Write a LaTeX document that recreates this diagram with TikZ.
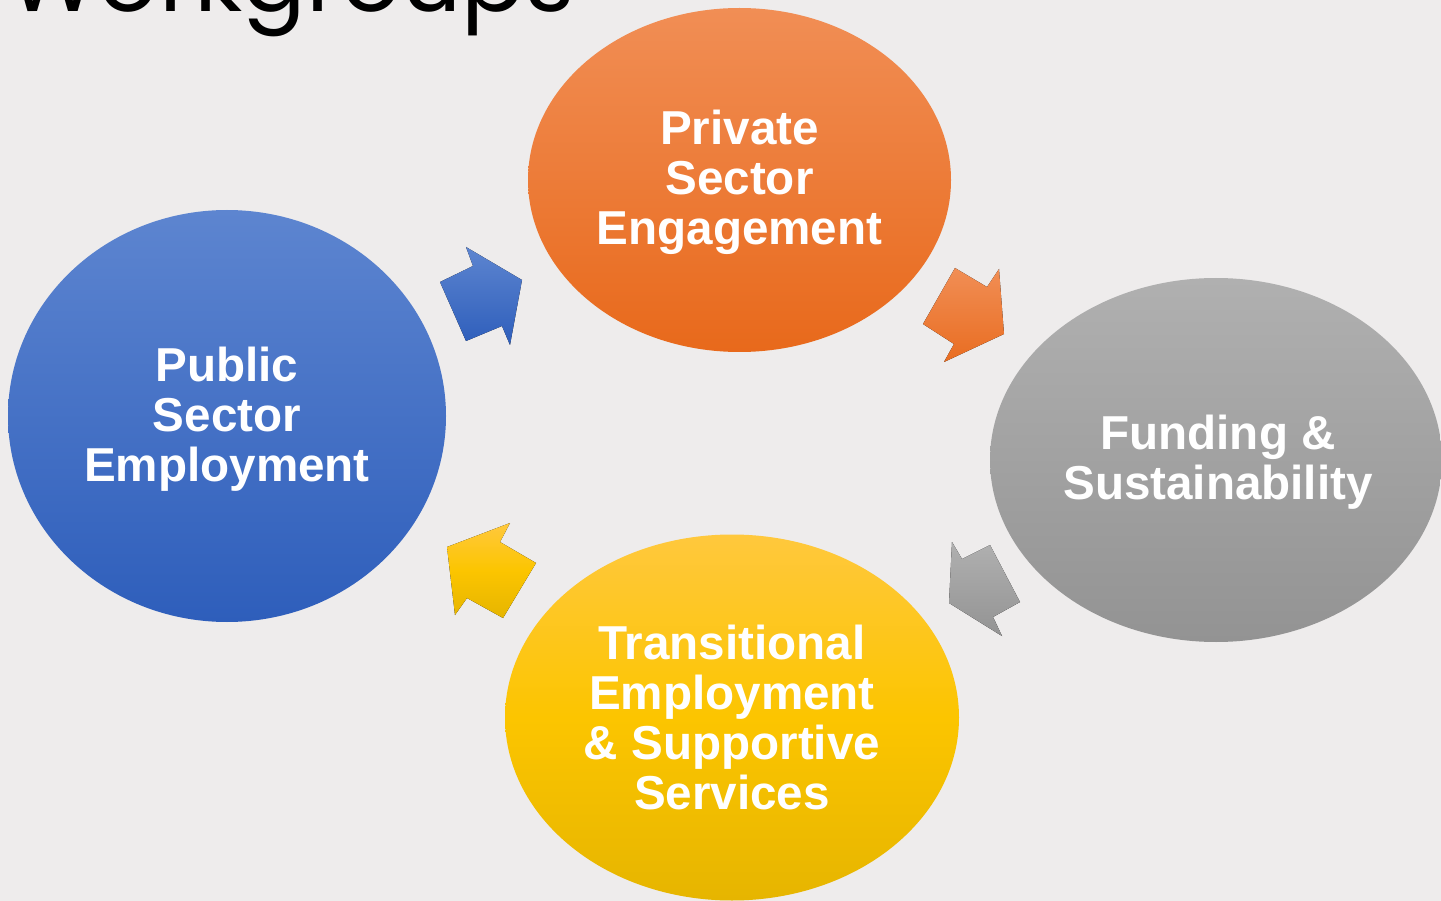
\documentclass[tikz,border=0pt]{standalone}
\usepackage{fontspec}
\setmainfont{Liberation Sans}
\newfontfamily\titlefont{Poppins}
\usetikzlibrary{shapes.geometric}
\definecolor{bgc}{HTML}{EEECEC}
\definecolor{orT}{HTML}{F18E55}
\definecolor{orB}{HTML}{E8691B}
\definecolor{blT}{HTML}{5D85D0}
\definecolor{blB}{HTML}{2E5EBB}
\definecolor{grT}{HTML}{B0B0B0}
\definecolor{grB}{HTML}{939393}
\definecolor{yeT}{HTML}{FFC83D}
\definecolor{yeM}{HTML}{FCC500}
\definecolor{yeB}{HTML}{E6B500}
\tikzset{
  bubble/.style={ellipse, inner sep=0pt},
  btext/.style={inner sep=0pt, text=white, align=center,
    font=\fontsize{47.6}{50}\selectfont\bfseries},
}
\begin{document}
\begin{tikzpicture}[x=1pt,y=-1pt]
\useasboundingbox (0,0) rectangle (1441,901);
\clip (0,0) rectangle (1441,901);
\fill[bgc] (0,0) rectangle (1441,901);
\node[anchor=base west, inner sep=0pt, font=\titlefont\fontsize{94}{94}\selectfont] (title) at (7,12) {Workgroups};
% ellipses
\node[bubble, minimum width=423pt, minimum height=344pt, top color=orT, bottom color=orB] (priv) at (739.5,180) {};
\node[bubble, minimum width=438pt, minimum height=412pt, top color=blT, bottom color=blB] (pub) at (227,416) {};
\node[bubble, minimum width=452pt, minimum height=364pt, top color=grT, bottom color=grB] (fund) at (1216,460) {};
\node[bubble, minimum width=454pt, minimum height=366pt, top color=yeT, bottom color=yeB, middle color=yeM] (trans) at (732,717.5) {};
\node[btext] (privt) at ([yshift=-2pt]priv.center) {Private\\Sector\\Engagement};
\node[btext] (pubt) at ([yshift=-3pt]pub.center) {Public\\Sector\\Employment};
\node[btext] (fundt) at ([xshift=2pt,yshift=-2pt]fund.center) {Funding \&\\Sustainability};
\node[btext] (transt) at (trans.center) {Transitional\\Employment\\\& Supportive\\Services};
% block arrows
\fill[top color=blT, bottom color=blB] (440,282) -- (473,266) -- (466,247) -- (522,280) -- (510,345) -- (502,326) -- (466,341) -- cycle;
\fill[top color=orT, bottom color=orB!90!orT] (955,268) -- (987,287) -- (999,269) -- (1004,334) -- (944,362) -- (954,344) -- (923,324) -- cycle;
\fill[top color=grT, bottom color=grB] (990,545) -- (1020,602) -- (993,617) -- (1002,636) -- (949,603) -- (952,542) -- (962,559) -- cycle;
\fill[top color=yeT, bottom color=yeB, middle color=yeM] (510,523) -- (500,542) -- (536,563) -- (503,618) -- (467,598) -- (455,615) -- (447,547) -- cycle;
\end{tikzpicture}
\end{document}
